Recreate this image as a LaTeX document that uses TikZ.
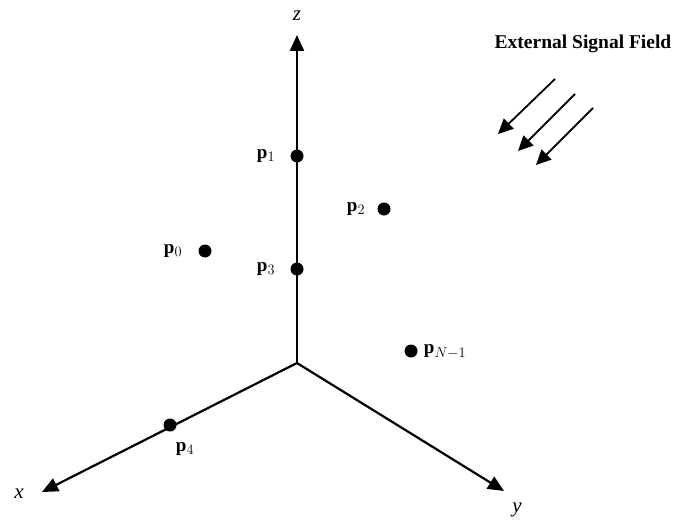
\documentclass[tikz,border=0pt]{standalone}
\usepackage{fontspec}
\setmainfont{Liberation Serif}
\usetikzlibrary{arrows.meta}
\tikzset{
  axis/.style={line width=2.2pt, -{Triangle[length=16pt,width=14pt]}},
  wave/.style={line width=1.8pt, -{Triangle[length=15pt,width=14pt]}},
  sensor/.style={circle, fill=black, inner sep=0pt, minimum size=13pt},
  plabel/.style={font=\fontsize{19}{21}\selectfont},
  alabel/.style={font=\fontsize{21}{23}\selectfont\itshape},
}
\begin{document}
\begin{tikzpicture}[x=1pt,y=-1pt]
\useasboundingbox (0,0) rectangle (674,524);
% axes
\coordinate (O) at (297,363);
\coordinate (zend) at (297,35);
\coordinate (xend) at (42,492);
\coordinate (yend) at (504,491);
\draw[axis] (O) -- (zend);
\draw[axis] (O) -- (xend);
\draw[axis] (O) -- (yend);
\node[alabel] (zlab) at (297,16) {z};
\node[alabel] (xlab) at (19,494) {x};
\node[alabel] (ylab) at (517,510) {y};
% sensors
\node[sensor] (p1) at (297,156) {};
\node[sensor] (p3) at (297,269) {};
\node[sensor] (p2) at (384,209) {};
\node[sensor] (p0) at (205,251) {};
\node[sensor] (pN) at (411,351) {};
\node[sensor] (p4) at (170,425) {};
\node[plabel] at (266,156) {\textbf{p}$_1$};
\node[plabel] at (266,269) {\textbf{p}$_3$};
\node[plabel] at (356,209) {\textbf{p}$_2$};
\node[plabel] at (173,251) {\textbf{p}$_0$};
\node[plabel] at (445,352) {\textbf{p}$_{N-1}$};
\node[plabel] at (185,449) {\textbf{p}$_4$};
% external field
\node[font=\fontsize{19.5}{21}\selectfont\bfseries] (ext) at (583,44) {External Signal Field};
\coordinate (a1) at (555,79);
\coordinate (b1) at (498,134);
\coordinate (a2) at (575,94);
\coordinate (b2) at (518,151);
\coordinate (a3) at (593,108);
\coordinate (b3) at (536,165);
\draw[wave] (a1) -- (b1);
\draw[wave] (a2) -- (b2);
\draw[wave] (a3) -- (b3);
\end{tikzpicture}
\end{document}
